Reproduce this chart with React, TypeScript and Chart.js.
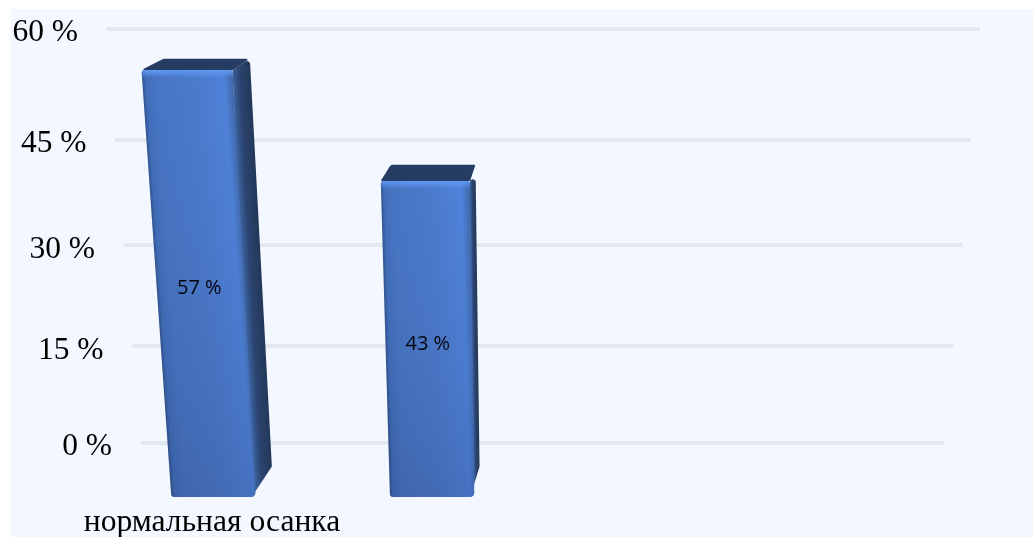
import React, { useEffect, useRef } from "react";
import { Chart, registerables, LinearScale } from "chart.js";

const categories = ["нормальная осанка", "", "", ""];
const shareValues = [57, 43, null, null];
const axisTicks = { min: 0, max: 60, step: 15 };

const SERIF = "'Liberation Serif', 'Times New Roman', serif";
const SANS = "'Open Sans', 'Noto Sans', sans-serif";
const INK = "#000000";

// Perspective of the back wall: lines get closer together towards the viewer.
const WALL_K = 0.095;
const FLOOR_L = 141, FLOOR_R = 944, TOP_L = 106, TOP_R = 980;
const LABEL_R0 = 112, LABEL_R1 = 78;

class PerspectiveScale extends (LinearScale as any) {
  static id = "perspective";
  static defaults = (LinearScale as any).defaults;
  frac(v: number) {
    return (v - this.min) / (this.max - this.min);
  }
  getPixelForValue(v: number) {
    const t = this.frac(v);
    return this.bottom - (t / (1 + WALL_K * (1 - t))) * (this.bottom - this.top);
  }
  _computeLabelArea() {
    return undefined;
  }
  _computeLabelItems(area: any) {
    const items = super._computeLabelItems(area);
    items.forEach((it: any, i: number) => {
      const t = this.frac(this.ticks[i].value);
      it.options.textAlign = "right";
      it.options.translation = [LABEL_R0 + (LABEL_R1 - LABEL_R0) * t, it.options.translation[1] + 4];
    });
    return items;
  }
  _computeGridLineItems(area: any) {
    const items = super._computeGridLineItems(area);
    items.forEach((it: any, i: number) => {
      const t = this.frac(this.ticks[i].value);
      it.x1 = FLOOR_L + (TOP_L - FLOOR_L) * t;
      it.x2 = FLOOR_R + (TOP_R - FLOOR_R) * t;
    });
    return items;
  }
}

Chart.register(...registerables, PerspectiveScale as any);

type Pt = [number, number];
const front = (x: number, y: number, y0: number): Pt => [547 + (x - 547) * (1 - (y - y0) / 5800), y];
const back = (p: Pt): Pt => [p[0] + 0.05 * (580 - p[0]), p[1] + 0.045 * (-180 - p[1])];

function roundPoly(ctx: CanvasRenderingContext2D, pts: Pt[], r: number[]) {
  const n = pts.length;
  const mid = (a: Pt, b: Pt): Pt => [(a[0] + b[0]) / 2, (a[1] + b[1]) / 2];
  const s = mid(pts[n - 1], pts[0]);
  ctx.beginPath();
  ctx.moveTo(s[0], s[1]);
  for (let i = 0; i < n; i++) {
    const b = pts[(i + 1) % n];
    ctx.arcTo(pts[i][0], pts[i][1], b[0], b[1], r[i]);
  }
  ctx.closePath();
}

function skewFill(
  ctx: CanvasRenderingContext2D,
  topL: Pt,
  topR: Pt,
  botL: Pt,
  stops: [number, string][]
) {
  ctx.save();
  ctx.clip();
  const w = topR[0] - topL[0];
  const h = botL[1] - topL[1];
  ctx.transform(w, 0, botL[0] - topL[0], h, topL[0], topL[1]);
  const g = ctx.createLinearGradient(0, 0, 1, 0);
  stops.forEach(([o, c]) => g.addColorStop(o, c));
  ctx.fillStyle = g;
  ctx.fillRect(-1, -1, 3, 3);
  ctx.restore();
}

const bar3d = {
  id: "bar3d",
  beforeDatasetDraw(chart: any, args: any) {
    const ctx: CanvasRenderingContext2D = chart.ctx;
    const yRef = chart.scales.yFront.getPixelForValue(shareValues[0] as number);
    args.meta.data.forEach((el: any, i: number) => {
      const v = shareValues[i];
      if (v == null) return;
      const l = el.x - el.width / 2;
      const r = el.x + el.width / 2;
      const fTL = front(l, el.y, yRef);
      const fTR = front(r, el.y, yRef);
      const fBL = front(l, el.base, yRef);
      const fBR = front(r, el.base, yRef);
      const bTL = back(fTL);
      const bTR = back(fTR);
      const bBR = back(fBR);

      // right side
      roundPoly(ctx, [fTR, bTR, bBR, [fBR[0] - 4, fBR[1]]], [0.5, 3, 2, 0.5]);
      skewFill(ctx, fTR, bTR, fBR, [
        [0, "#3c639f"],
        [0.4, "#2b436f"],
        [1, "#233859"],
      ]);
      // top
      roundPoly(ctx, [fTL, bTL, bTR, fTR], [0.6, 4, 1, 0.5]);
      ctx.fillStyle = "#263c63";
      ctx.fill();
      // front
      roundPoly(ctx, [fTL, fTR, fBR, fBL], [3, 3, 4, 3]);
      skewFill(ctx, fTL, fTR, fBL, [
        [0, "#2f5088"],
        [0.04, "#3f6bb5"],
        [0.14, "#4673c0"],
        [0.55, "#4a78c8"],
        [0.9, "#4e81d8"],
        [1, "#3c639f"],
      ]);
      // light from above, darker towards the floor
      roundPoly(ctx, [fTL, fTR, fBR, fBL], [3, 3, 4, 3]);
      ctx.save();
      ctx.clip();
      const vg = ctx.createLinearGradient(0, fTL[1], 0, fBL[1]);
      vg.addColorStop(0, "rgba(90,140,230,0.08)");
      vg.addColorStop(1, "rgba(40,60,110,0.22)");
      ctx.fillStyle = vg;
      ctx.fillRect(0, fTL[1], chart.width, fBL[1] - fTL[1]);
      const hg = ctx.createLinearGradient(0, fTL[1], 0, fTL[1] + 8);
      hg.addColorStop(0, "rgba(98,155,245,0.95)");
      hg.addColorStop(1, "rgba(98,155,245,0)");
      ctx.fillStyle = hg;
      ctx.fillRect(0, fTL[1], chart.width, 8);
      ctx.restore();

      // value label
      const mid = front(el.x, (el.y + el.base) / 2, yRef);
      ctx.save();
      ctx.font = `500 20px ${SANS}`;
      ctx.fillStyle = "#05050f";
      ctx.textAlign = "center";
      ctx.textBaseline = "middle";
      ctx.fillText(`${v} %`, mid[0] - 1, mid[1] + 5);
      ctx.restore();
    });
    return false;
  },
};

export default function App() {
  const ref = useRef<HTMLCanvasElement>(null);
  useEffect(() => {
    const chart = new Chart(ref.current as HTMLCanvasElement, {
      type: "bar",
      plugins: [bar3d],
      data: {
        labels: categories,
        datasets: [
          {
            label: "нормальная осанка",
            data: shareValues,
            yAxisID: "yFront",
            base: 3.15,
            backgroundColor: "#4a78c8",
            categoryPercentage: 1,
            barPercentage: 91 / 236,
          } as any,
        ],
      },
      options: {
        responsive: false,
        animation: false,
        events: [],
        devicePixelRatio: 1,
        layout: { padding: { top: 29, right: 20, left: 0, bottom: 0 } },
        plugins: { legend: { display: false }, tooltip: { enabled: false }, title: { display: false } },
        scales: {
          x: {
            grid: { display: false },
            border: { display: false },
            afterFit: (s: any) => {
              s.height = 94;
              s.paddingLeft = 0;
              s.paddingRight = 0;
            },
            ticks: {
              color: INK,
              font: { family: SERIF, size: 31.6 },
              padding: 53,
              labelOffset: 25,
              maxRotation: 0,
              autoSkip: false,
            },
          },
          y: {
            type: "perspective" as any,
            position: "left",
            min: axisTicks.min,
            max: axisTicks.max,
            afterFit: (s: any) => {
              s.width = 69;
            },
            border: { display: false },
            grid: { color: "#e3e7f0", lineWidth: 4, drawTicks: false },
            ticks: {
              stepSize: axisTicks.step,
              color: INK,
              font: { family: SERIF, size: 31.5 },
              callback: (v: any) => `${v} %`,
            },
          } as any,
          yFront: {
            type: "linear",
            display: false,
            min: 9.96,
            max: 62.17,
          },
        },
      },
    });
    return () => chart.destroy();
  }, []);
  return (
    <div style={{ position: "fixed", left: 0, top: 0, width: 1033, height: 537, background: "#ffffff", overflow: "hidden" }}>
      <div style={{ position: "absolute", left: 11, top: 9, right: 0, bottom: 0, background: "#f3f7ff" }} />
      <canvas ref={ref} width={1033} height={537} style={{ position: "absolute", left: 0, top: 0, display: "block" }} />
    </div>
  );
}
